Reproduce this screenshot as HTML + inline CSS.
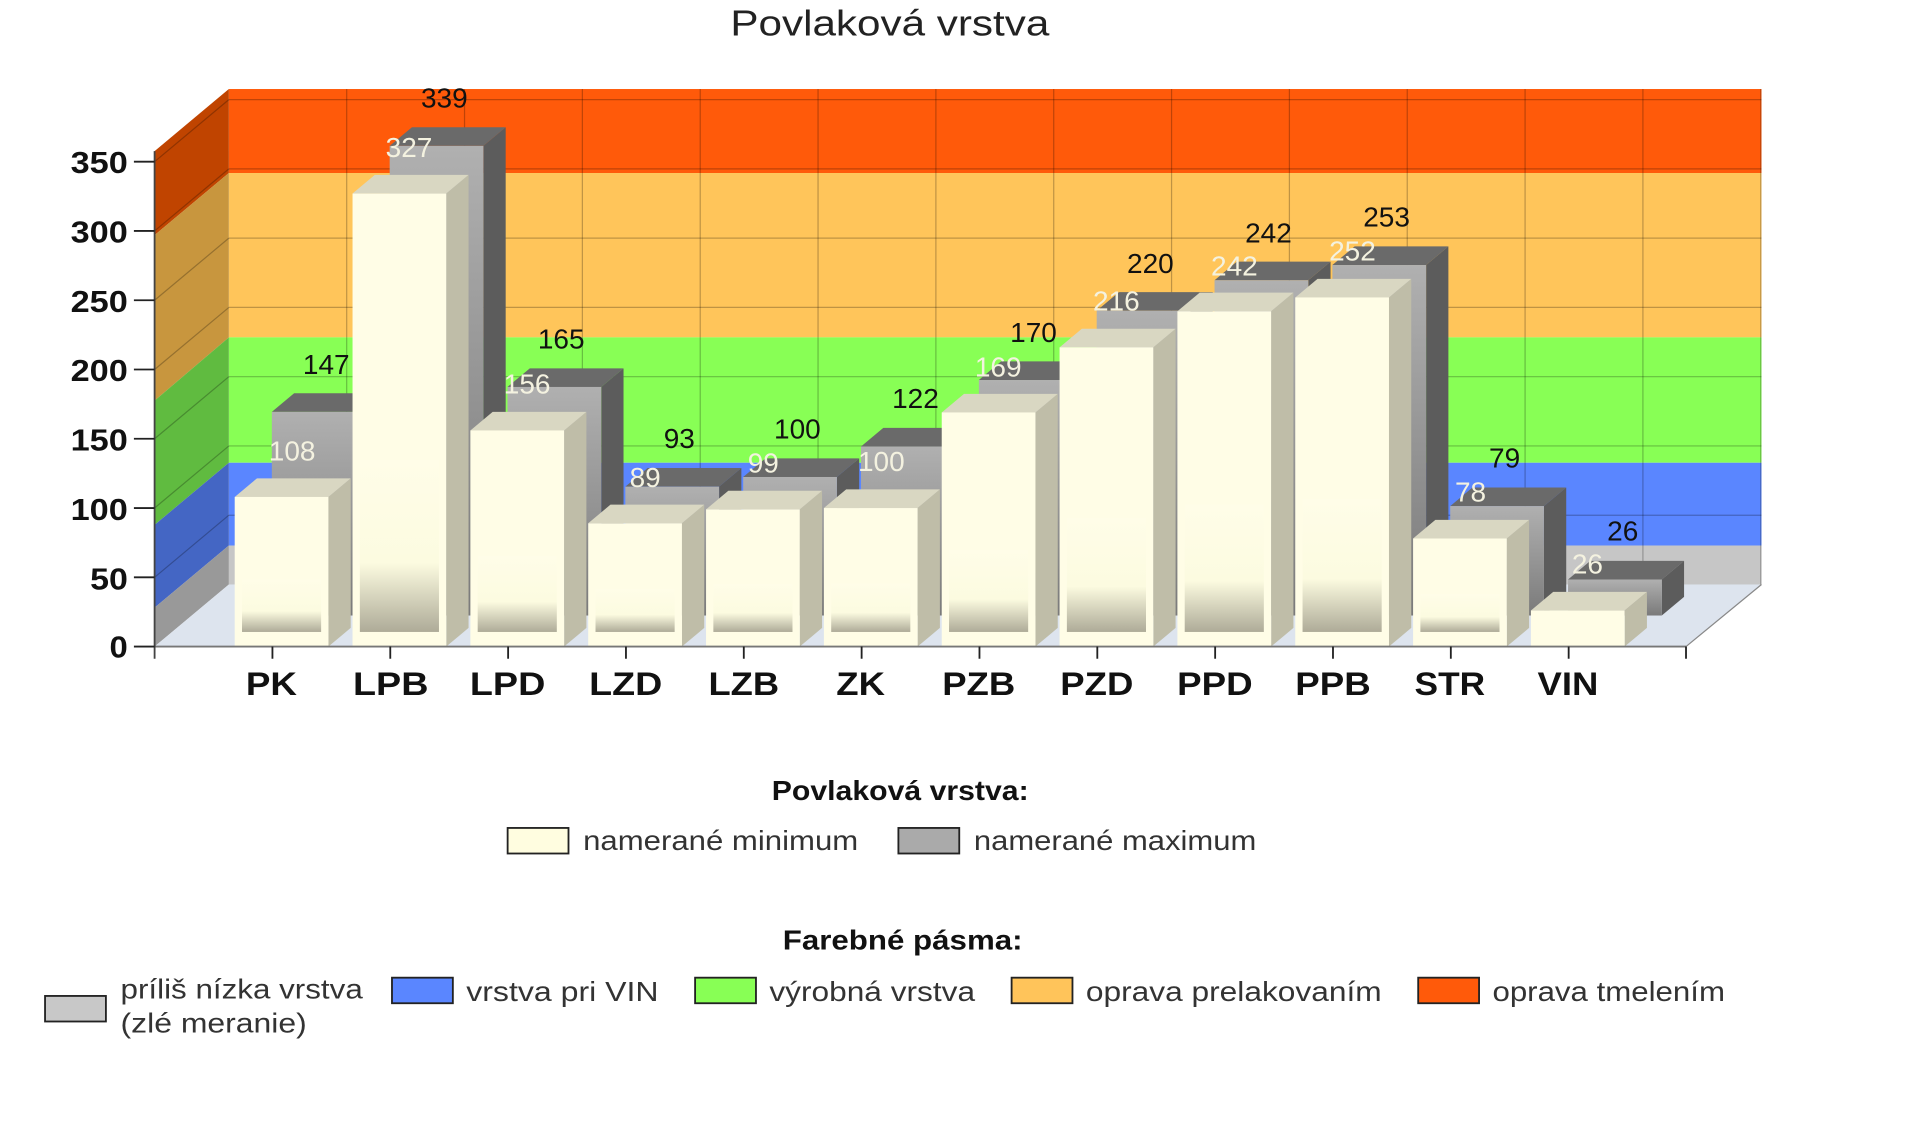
<!DOCTYPE html>
<html><head><meta charset="utf-8"><style>
html,body{margin:0;padding:0;background:#fff;width:1910px;height:1130px;overflow:hidden}
svg{display:block}
text{font-family:"Liberation Sans",sans-serif}
</style></head><body>
<svg id="s" width="1910" height="1130" viewBox="0 0 1569 928" xmlns="http://www.w3.org/2000/svg">
<defs>
<linearGradient id="cf" x1="0" y1="0" x2="0" y2="1"><stop offset="0" stop-color="#fffde8"/><stop offset="0.6" stop-color="#fcfbe0"/><stop offset="1" stop-color="#aeab98"/></linearGradient>
<linearGradient id="gf" x1="0" y1="0" x2="0" y2="1"><stop offset="0" stop-color="#b0b0b0"/><stop offset="1" stop-color="#7a7a7a"/></linearGradient>
</defs>
<text x="600" y="29" font-size="30" textLength="262" lengthAdjust="spacingAndGlyphs" fill="#222">Povlaková vrstva</text>
<rect x="188" y="73" width="1259" height="69" fill="#ff5a0a"/>
<rect x="188" y="142" width="1259" height="135" fill="#ffc55a"/>
<rect x="188" y="277" width="1259" height="103" fill="#88ff55"/>
<rect x="188" y="380" width="1259" height="68" fill="#5a86ff"/>
<rect x="188" y="448" width="1259" height="32" fill="#c6c6c6"/>
<polygon points="127,124 188,73 188,142 127,193" fill="#c04400"/>
<polygon points="127,193 188,142 188,277 127,329" fill="#c8963e"/>
<polygon points="127,329 188,277 188,380 127,431" fill="#60bb40"/>
<polygon points="127,431 188,380 188,448 127,499" fill="#4466c4"/>
<polygon points="127,499 188,448 188,480 127,531" fill="#999"/>
<g id="grid" stroke="#000" stroke-opacity="0.25" stroke-width="1"></g>
<polygon points="127,531 188,480 1447,480 1385,531" fill="#dde4ee"/>
<line x1="1385" y1="531" x2="1447" y2="480" stroke="#888"/>
<g id="bars"></g>
<line x1="127" y1="531" x2="1385" y2="531" stroke="#777" stroke-width="1.5"/>
<line x1="127" y1="124" x2="127" y2="541" stroke="#444" stroke-width="1.5"/>
<g id="ticks" stroke="#222" stroke-width="1.5"></g>
<g font-size="25" font-weight="bold" text-anchor="end" fill="#111">
<text x="105" y="540" textLength="15" lengthAdjust="spacingAndGlyphs">0</text>
<text x="105" y="484" textLength="31" lengthAdjust="spacingAndGlyphs">50</text>
<text x="105" y="427" textLength="47" lengthAdjust="spacingAndGlyphs">100</text>
<text x="105" y="370" textLength="47" lengthAdjust="spacingAndGlyphs">150</text>
<text x="105" y="313" textLength="47" lengthAdjust="spacingAndGlyphs">200</text>
<text x="105" y="256" textLength="47" lengthAdjust="spacingAndGlyphs">250</text>
<text x="105" y="199" textLength="47" lengthAdjust="spacingAndGlyphs">300</text>
<text x="105" y="142" textLength="47" lengthAdjust="spacingAndGlyphs">350</text>
</g>
<g font-size="27" font-weight="bold" text-anchor="middle" fill="#111">
<text x="223" y="571" textLength="42" lengthAdjust="spacingAndGlyphs">PK</text>
<text x="321" y="571" textLength="62" lengthAdjust="spacingAndGlyphs">LPB</text>
<text x="417" y="571" textLength="62" lengthAdjust="spacingAndGlyphs">LPD</text>
<text x="514" y="571" textLength="60" lengthAdjust="spacingAndGlyphs">LZD</text>
<text x="611" y="571" textLength="58" lengthAdjust="spacingAndGlyphs">LZB</text>
<text x="707" y="571" textLength="40" lengthAdjust="spacingAndGlyphs">ZK</text>
<text x="804" y="571" textLength="60" lengthAdjust="spacingAndGlyphs">PZB</text>
<text x="901" y="571" textLength="60" lengthAdjust="spacingAndGlyphs">PZD</text>
<text x="998" y="571" textLength="62" lengthAdjust="spacingAndGlyphs">PPD</text>
<text x="1095" y="571" textLength="62" lengthAdjust="spacingAndGlyphs">PPB</text>
<text x="1191" y="571" textLength="58" lengthAdjust="spacingAndGlyphs">STR</text>
<text x="1288" y="571" textLength="50" lengthAdjust="spacingAndGlyphs">VIN</text>
</g>
<g font-size="23" text-anchor="middle" fill="#f4f2e0">
<text x="240" y="378">108</text><text x="336" y="129">327</text><text x="433" y="323">156</text><text x="530" y="400">89</text><text x="627" y="388">99</text><text x="724" y="387">100</text><text x="820" y="309">169</text><text x="917" y="255">216</text><text x="1014" y="226">242</text><text x="1111" y="214">252</text><text x="1208" y="412">78</text><text x="1304" y="471">26</text>
</g>
<g font-size="23" text-anchor="middle" fill="#111">
<text x="268" y="307">147</text><text x="365" y="88">339</text><text x="461" y="286">165</text><text x="558" y="368">93</text><text x="655" y="360">100</text><text x="752" y="335">122</text><text x="849" y="281">170</text><text x="945" y="224">220</text><text x="1042" y="199">242</text><text x="1139" y="186">253</text><text x="1236" y="384">79</text><text x="1333" y="444">26</text>
</g>
<g font-size="23" fill="#333">
<text x="634" y="657" font-weight="bold" fill="#111" textLength="211" lengthAdjust="spacingAndGlyphs">Povlaková vrstva:</text>
<rect x="417" y="680" width="50" height="21" fill="#fffde0" stroke="#222" stroke-width="1.5"/>
<text x="479" y="698" textLength="226" lengthAdjust="spacingAndGlyphs">namerané minimum</text>
<rect x="738" y="680" width="50" height="21" fill="#aaa" stroke="#222" stroke-width="1.5"/>
<text x="800" y="698" textLength="232" lengthAdjust="spacingAndGlyphs">namerané maximum</text>
<text x="643" y="780" font-weight="bold" fill="#111" textLength="197" lengthAdjust="spacingAndGlyphs">Farebné pásma:</text>
<rect x="37" y="818" width="50" height="21" fill="#c8c8c8" stroke="#222" stroke-width="1.5"/>
<text x="99" y="820" textLength="199" lengthAdjust="spacingAndGlyphs">príliš nízka vrstva</text>
<text x="99" y="848" textLength="153" lengthAdjust="spacingAndGlyphs">(zlé meranie)</text>
<rect x="322" y="803" width="50" height="21" fill="#5a86ff" stroke="#222" stroke-width="1.5"/>
<text x="383" y="822" textLength="158" lengthAdjust="spacingAndGlyphs">vrstva pri VIN</text>
<rect x="571" y="803" width="50" height="21" fill="#88ff55" stroke="#222" stroke-width="1.5"/>
<text x="632" y="822" textLength="169" lengthAdjust="spacingAndGlyphs">výrobná vrstva</text>
<rect x="831" y="803" width="50" height="21" fill="#ffc45a" stroke="#222" stroke-width="1.5"/>
<text x="892" y="822" textLength="243" lengthAdjust="spacingAndGlyphs">oprava prelakovaním</text>
<rect x="1165" y="803" width="50" height="21" fill="#ff5a0a" stroke="#222" stroke-width="1.5"/>
<text x="1226" y="822" textLength="191" lengthAdjust="spacingAndGlyphs">oprava tmelením</text>
</g>
</svg>
<script>
(function(){
var NS="http://www.w3.org/2000/svg";
function el(p,t,a){var e=document.createElementNS(NS,t);for(var k in a)e.setAttribute(k,a[k]);p.appendChild(e);return e;}
var g=document.getElementById("grid"),b=document.getElementById("bars"),tk=document.getElementById("ticks");
for(var k=1;k<=13;k++){var x=188+96.8*k;el(g,"line",{x1:x,y1:73,x2:x,y2:480});}
for(var k=1;k<=7;k++){var y=480-56.9*k;el(g,"line",{x1:188,y1:y,x2:1447,y2:y});el(g,"line",{x1:127,y1:y+51,x2:188,y2:y});}
for(var k=0;k<=7;k++){var y=531-56.9*k;el(tk,"line",{x1:110,y1:y,x2:127,y2:y});}
for(var i=0;i<=12;i++){var x=127+96.8*(i+1);if(i==12)x=1385;el(tk,"line",{x1:x,y1:531,x2:x,y2:541});}
var mn=[108,327,156,89,99,100,169,216,242,252,78,26],mx=[147,339,165,93,100,122,170,220,242,253,79,26];
function Y(v){return 531-1.138*v;}
function bar(x,w,v,z0,z1,face,top,side){
 var dx0=61*z0,dy0=51*z0,dx1=61*z1,dy1=51*z1,yt=Y(v),yb=531;
 var L=x+dx0,R=x+w+dx0,T=yt-dy0,B=yb-dy0,ddx=dx1-dx0,ddy=dy1-dy0;
 el(b,"polygon",{points:[R,T,R+ddx,T-ddy,R+ddx,B-ddy,R,B].join(","),fill:side});
 el(b,"polygon",{points:[L,T,L+ddx,T-ddy,R+ddx,T-ddy,R,T].join(","),fill:top});
 el(b,"rect",{x:L,y:T,width:w,height:B-T,fill:face});
 return [L,T,R,B];
}
for(var i=0;i<12;i++){var c=127+96.8*(i+1);bar(c-31,77,mx[i],0.5,0.8,"url(#gf)","#6a6a6a","#5c5c5c");}
for(var i=0;i<12;i++){var c=127+96.8*(i+1);
 var r=bar(c-31,77,mn[i],0,0.3,"#fffde6","#d9d7c2","#bfbda8");
 var h=r[3]-r[1];if(h>30){var ih=Math.min(h*0.35,120);if(h>200)ih=h*0.38;
 el(b,"rect",{x:r[0]+6,y:r[3]-12-ih,width:r[2]-r[0]-12,height:ih,fill:"url(#cf)"});}
}
})();
</script>
</body></html>
